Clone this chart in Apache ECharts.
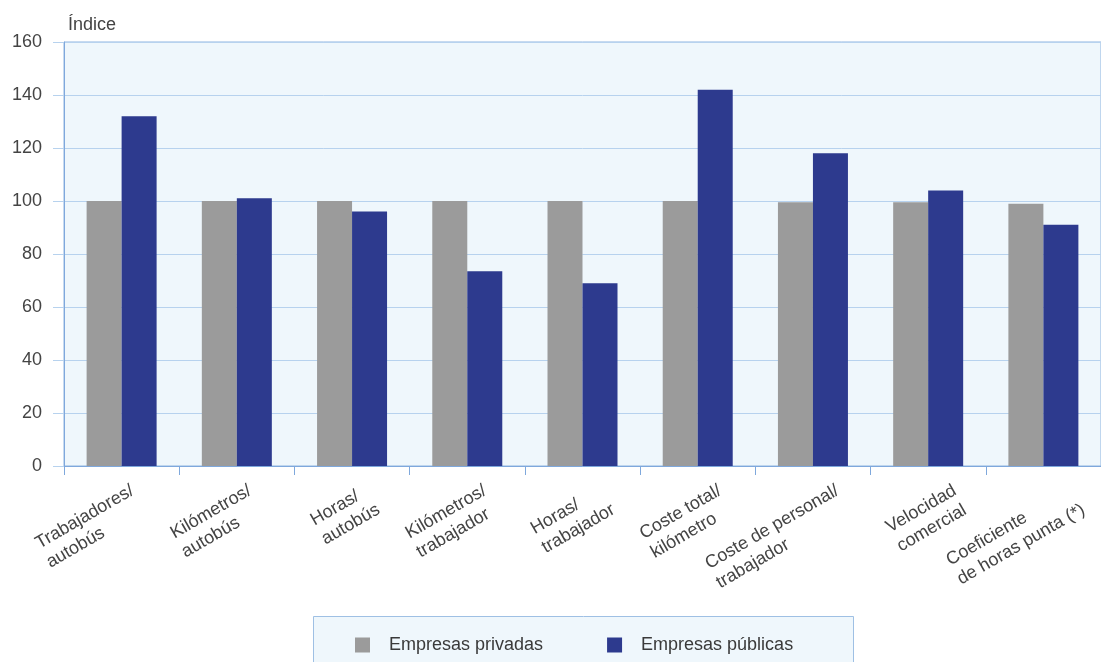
<!DOCTYPE html>
<html><head><meta charset="utf-8">
<script src="https://cdn.jsdelivr.net/npm/echarts@6/dist/echarts.min.js"></script>
<style>html,body{margin:0;padding:0;background:#fff}#c{width:1101px;height:662px}</style>
</head><body><div id="c"></div>
<script>
const categories = ['Trabajadores/\nautobús','Kilómetros/\nautobús','Horas/\nautobús','Kilómetros/\ntrabajador','Horas/\ntrabajador','Coste total/\nkilómetro','Coste de personal/\ntrabajador','Velocidad\ncomercial','Coeficiente\nde horas punta (*)'];
const privadas = [100, 100, 100, 100, 100, 100, 99.5, 99.5, 99];
const publicas = [132, 101, 96, 73.5, 69, 142, 118, 104, 91];
const seriesNames = ['Empresas privadas', 'Empresas públicas'];
const yTitle = 'Índice';

const FONT = '"Liberation Sans", Arial, sans-serif';
const chart = echarts.init(document.getElementById('c'));
chart.setOption({
  animation: false,
  textStyle: { fontFamily: FONT },
  title: { text: yTitle, left: 63, top: 11, textStyle: { fontFamily: FONT, fontSize: 18, fontWeight: 'normal', color: '#444' } },
  grid: [
    { left: 64, right: 0, top: 42, height: 424, show: true, backgroundColor: '#eff7fc', borderColor: '#8fb4e0', borderWidth: 1 },
    { left: 138, width: 940, top: 42, height: 424, show: false }
  ],
  graphic: [{
    type: 'rect', left: 313, top: 616, z: 0,
    shape: { width: 540, height: 60 },
    style: { fill: '#eff7fc', stroke: '#9fc0e4', lineWidth: 1 }
  }],
  legend: {
    left: 350, top: 631, itemWidth: 15, itemHeight: 15, itemGap: 64, icon: 'rect',
    textStyle: { fontFamily: FONT, fontSize: 18, color: '#3a3a3a', padding: [0, 0, 0, 14] },
    data: seriesNames
  },
  xAxis: [{
    type: 'category', data: categories, gridIndex: 0,
    axisLine: { lineStyle: { color: '#7fa8dc', width: 1 } },
    axisTick: { show: true, interval: 0, length: 9, lineStyle: { color: '#7fa8dc' } },
    axisLabel: { show: false }
  }, {
    type: 'category', data: categories, gridIndex: 1, boundaryGap: false,
    axisLine: { show: false }, axisTick: { show: false }, splitLine: { show: false },
    axisLabel: {
      rotate: 30, interval: 0, margin: 33,
      formatter: v => v.split('\n').map(s => '{a|' + s + '}').join('\n'),
      rich: { a: { align: 'left', fontFamily: FONT, fontSize: 18, color: '#444', lineHeight: 22 } }
    }
  }],
  yAxis: [{
    type: 'value', min: 0, max: 160, interval: 20, gridIndex: 0,
    axisLine: { show: true, lineStyle: { color: '#7fa8dc' } },
    axisTick: { show: true, length: 11, lineStyle: { color: '#b7d2ee' } },
    splitLine: { lineStyle: { color: '#b7d2ee', width: 1 } },
    axisLabel: { margin: 22, fontFamily: FONT, fontSize: 18, color: '#444' }
  }, {
    type: 'value', gridIndex: 1, show: false
  }],
  series: [
    { name: seriesNames[0], type: 'bar', data: privadas, barWidth: 35, barGap: '0%', itemStyle: { color: '#9b9b9b' } },
    { name: seriesNames[1], type: 'bar', data: publicas, barWidth: 35, itemStyle: { color: '#2d3a8e' } }
  ]
});
</script></body></html>
